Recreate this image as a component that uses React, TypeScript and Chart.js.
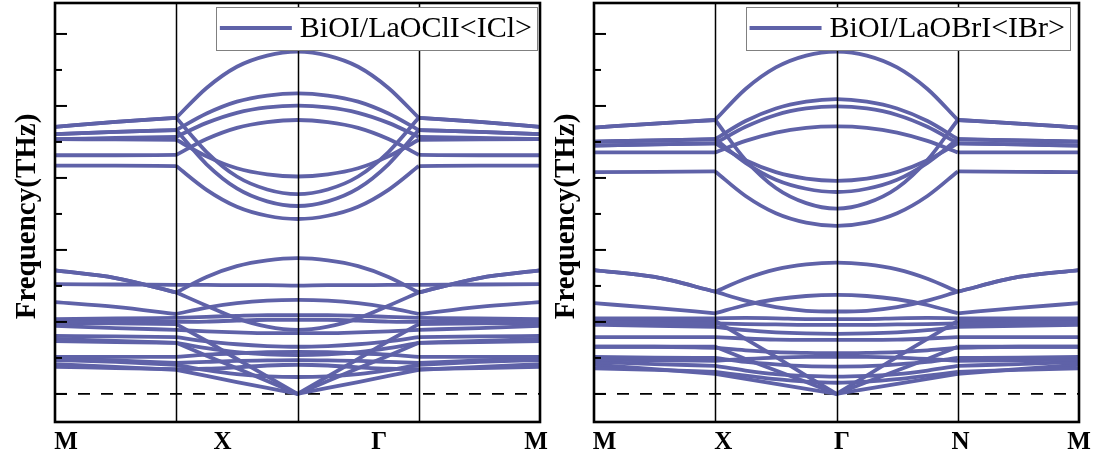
import React, { useEffect, useRef } from 'react';
import { Chart, registerables } from 'chart.js';

Chart.register(...registerables);

// k-path coordinate of every sample (M=0, X=1, Γ=2, N=3, M=4)
const PATH_T = [0, 0.5, 1, 1.25, 1.5, 1.75, 2, 2.25, 2.5, 2.75, 3, 3.5, 4];
// index ranges of the path segments M-X, X-Γ-N, N-M (bands are smooth inside a range, kinked at its ends)
const SEGMENTS = [[0, 2], [2, 10], [10, 12]];
const NODE_T = [1, 2, 3];
const LEFT_LABELS = ['M', 'X', 'Γ', 'M'];
const RIGHT_LABELS = ['M', 'X', 'Γ', 'N', 'M'];
const MAJOR_TICKS = [0, 2, 4, 6, 8, 10];
const MINOR_TICKS = [1, 3, 5, 7, 9];
const Y_TITLE = 'Frequency(THz)';
const LEFT_LEGEND = 'BiOI/LaOClI<ICl>';
const RIGHT_LEGEND = 'BiOI/LaOBrI<IBr>';

// ---------- BiOI/LaOClI<ICl> : optical (upper group) ----------
const L_A = [7.42, 7.56, 7.67, 8.5, 9.09, 9.4, 9.51, 9.4, 9.09, 8.5, 7.67, 7.56, 7.42];
const L_DN2 = [7.42, 7.56, 7.67, 6.72, 6.04, 5.68, 5.55, 5.68, 6.04, 6.72, 7.67, 7.56, 7.42];
const L_B = [7.22, 7.28, 7.33, 7.79, 8.12, 8.29, 8.35, 8.29, 8.12, 7.79, 7.33, 7.28, 7.22];
const L_DN3 = [7.22, 7.28, 7.33, 6.38, 5.71, 5.35, 5.22, 5.35, 5.71, 6.38, 7.33, 7.28, 7.22];
const L_C = [7.08, 7.11, 7.14, 7.53, 7.81, 7.96, 8.01, 7.96, 7.81, 7.53, 7.14, 7.11, 7.08];
const L_DN1 = [7.08, 7.07, 7.06, 6.6, 6.27, 6.1, 6.04, 6.1, 6.27, 6.6, 7.06, 7.07, 7.08];
const L_D = [6.63, 6.63, 6.64, 7.08, 7.39, 7.55, 7.61, 7.55, 7.39, 7.08, 6.64, 6.63, 6.63];
const L_DN4 = [6.34, 6.34, 6.33, 5.67, 5.2, 4.95, 4.86, 4.95, 5.2, 5.67, 6.33, 6.34, 6.34];
// ---------- BiOI/LaOClI<ICl> : lower group ----------
const L_B1 = [3.43, 3.22, 2.82, 3.25, 3.55, 3.71, 3.77, 3.71, 3.55, 3.25, 2.82, 3.22, 3.43];
const L_B5 = [3.43, 3.22, 2.82, 2.45, 2.1, 1.87, 1.78, 1.87, 2.1, 2.45, 2.82, 3.22, 3.43];
const L_B2 = [3.05, 3.04, 3.03, 3.03, 3.02, 3.02, 3.01, 3.02, 3.02, 3.03, 3.03, 3.04, 3.05];
const L_B3 = [2.55, 2.42, 2.22, 2.4, 2.52, 2.59, 2.61, 2.59, 2.52, 2.4, 2.22, 2.42, 2.55];
const L_B4 = [2.08, 2.1, 2.11, 2.14, 2.17, 2.19, 2.19, 2.19, 2.17, 2.14, 2.11, 2.1, 2.08];
const L_B6 = [2.03, 2.01, 2.0, 2.01, 2.04, 2.06, 2.06, 2.06, 2.04, 2.01, 2.0, 2.01, 2.03];
const L_B8 = [1.89, 1.83, 1.78, 1.74, 1.71, 1.69, 1.69, 1.69, 1.71, 1.74, 1.78, 1.83, 1.89];
const L_B9 = [1.61, 1.6, 1.58, 1.46, 1.38, 1.33, 1.31, 1.33, 1.38, 1.46, 1.58, 1.6, 1.61];
const L_B10 = [1.53, 1.47, 1.42, 1.27, 1.16, 1.1, 1.08, 1.1, 1.16, 1.27, 1.42, 1.47, 1.53];
const L_B11 = [1.03, 1.03, 1.03, 1.09, 1.13, 1.16, 1.17, 1.16, 1.13, 1.09, 1.03, 1.03, 1.03];
const L_B12 = [0.99, 0.93, 0.86, 0.89, 0.92, 0.93, 0.94, 0.93, 0.92, 0.89, 0.86, 0.93, 0.99];
const L_B13 = [0.94, 0.89, 0.81, 0.66, 0.55, 0.49, 0.47, 0.49, 0.55, 0.66, 0.81, 0.89, 0.94];
const L_B14 = [0.75, 0.72, 0.69, 0.7, 0.74, 0.79, 0.81, 0.79, 0.74, 0.7, 0.69, 0.72, 0.75];
// acoustic
const L_A1 = [0.83, 0.75, 0.67, 0.5, 0.33, 0.17, 0, 0.17, 0.33, 0.5, 0.67, 0.75, 0.83];
const L_A2 = [1.47, 1.44, 1.42, 1.06, 0.71, 0.36, 0, 0.36, 0.71, 1.06, 1.42, 1.44, 1.47];
const L_A3 = [1.97, 1.96, 1.94, 1.47, 0.97, 0.49, 0, 0.49, 0.97, 1.47, 1.94, 1.96, 1.97];

// ---------- BiOI/LaOBrI<IBr> : optical (upper group) ----------
const R_A = [7.4, 7.51, 7.61, 8.47, 9.07, 9.4, 9.51, 9.4, 9.07, 8.47, 7.61, 7.51, 7.4];
const R_DN2 = [7.4, 7.51, 7.61, 6.5, 5.72, 5.3, 5.15, 5.3, 5.72, 6.5, 7.61, 7.51, 7.4];
const R_B = [7.01, 7.04, 7.08, 7.58, 7.93, 8.12, 8.19, 8.12, 7.93, 7.58, 7.08, 7.04, 7.01];
const R_DN3 = [7.01, 7.04, 7.08, 6.42, 5.95, 5.7, 5.61, 5.7, 5.95, 6.42, 7.08, 7.04, 7.01];
const R_C = [6.9, 6.93, 6.96, 7.42, 7.75, 7.93, 7.99, 7.93, 7.75, 7.42, 6.96, 6.93, 6.9];
const R_DN1 = [6.9, 6.93, 6.96, 6.49, 6.16, 5.98, 5.92, 5.98, 6.16, 6.49, 6.96, 6.93, 6.9];
const R_D = [6.71, 6.71, 6.71, 7.03, 7.26, 7.39, 7.43, 7.39, 7.26, 7.03, 6.71, 6.71, 6.71];
const R_DN4 = [6.16, 6.17, 6.18, 5.5, 5.02, 4.76, 4.67, 4.76, 5.02, 5.5, 6.18, 6.17, 6.16];
// ---------- BiOI/LaOBrI<IBr> : lower group ----------
const R_R1 = [3.44, 3.25, 2.84, 3.2, 3.46, 3.6, 3.65, 3.6, 3.46, 3.2, 2.84, 3.25, 3.44];
const R_R2 = [3.44, 3.25, 2.84, 2.59, 2.41, 2.31, 2.29, 2.31, 2.41, 2.59, 2.84, 3.25, 3.44];
const R_R3 = [2.52, 2.39, 2.24, 2.47, 2.63, 2.72, 2.75, 2.72, 2.63, 2.47, 2.24, 2.39, 2.52];
const R_R4 = [2.1, 2.1, 2.1, 2.11, 2.1, 2.08, 2.08, 2.08, 2.1, 2.11, 2.1, 2.1, 2.1];
const R_R5 = [1.99, 1.97, 1.96, 1.94, 1.93, 1.92, 1.92, 1.92, 1.93, 1.94, 1.96, 1.97, 1.99];
const R_R6 = [1.92, 1.89, 1.86, 1.77, 1.71, 1.68, 1.67, 1.68, 1.71, 1.77, 1.86, 1.89, 1.92];
const R_R7 = [1.58, 1.58, 1.58, 1.54, 1.51, 1.5, 1.5, 1.5, 1.51, 1.54, 1.58, 1.58, 1.58];
const R_R8 = [1.31, 1.31, 1.28, 1.21, 1.16, 1.14, 1.13, 1.14, 1.16, 1.21, 1.28, 1.31, 1.31];
const R_R9 = [1.03, 1.01, 1.0, 0.89, 0.82, 0.77, 0.76, 0.77, 0.82, 0.89, 1.0, 1.01, 1.03];
const R_R10 = [0.96, 0.93, 0.92, 0.97, 1.01, 1.03, 1.03, 1.03, 1.01, 0.97, 0.92, 0.93, 0.96];
const R_R11 = [0.89, 0.83, 0.78, 0.65, 0.55, 0.5, 0.48, 0.5, 0.55, 0.65, 0.78, 0.83, 0.89];
const R_R12 = [0.71, 0.67, 0.61, 0.51, 0.41, 0.34, 0.31, 0.34, 0.41, 0.51, 0.61, 0.67, 0.71];
// acoustic
const R_A1 = [0.81, 0.69, 0.56, 0.42, 0.28, 0.14, 0, 0.14, 0.28, 0.42, 0.56, 0.69, 0.81];
const R_A2 = [1.31, 1.31, 1.31, 0.97, 0.65, 0.33, 0, 0.33, 0.65, 0.97, 1.31, 1.31, 1.31];
const R_A3 = [2.04, 2.03, 2.03, 1.53, 1.03, 0.51, 0, 0.51, 1.03, 1.53, 2.03, 2.03, 2.04];

const LEFT_OPTICAL = [L_A, L_DN2, L_B, L_DN3, L_C, L_DN1, L_D, L_DN4, L_B1, L_B5, L_B2, L_B3, L_B4, L_B6, L_B8, L_B9, L_B10, L_B11, L_B12, L_B13, L_B14];
const LEFT_ACOUSTIC = [L_A1, L_A2, L_A3];
const RIGHT_OPTICAL = [R_A, R_DN2, R_B, R_DN3, R_C, R_DN1, R_D, R_DN4, R_R1, R_R2, R_R3, R_R4, R_R5, R_R6, R_R7, R_R8, R_R9, R_R10, R_R11, R_R12];
const RIGHT_ACOUSTIC = [R_A1, R_A2, R_A3];

const BAND_COLOR = '#5F62A8';
const SERIF = '"Liberation Serif", "Times New Roman", serif';

type PanelCfg = {
  optical: number[][];
  acoustic: number[][];
  labels: string[];
  legend: string;
  legendInset: number;
  labelMin: number;
  labelMax: number;
  padding: { left: number; right: number; top: number; bottom: number };
};

function makeDecor(cfg: PanelCfg) {
  return {
    id: 'decor',
    afterDatasetsDraw(chart: any) {
      const { ctx, chartArea: a, scales } = chart;
      const x = scales.x;
      const y = scales.y;
      const xl = scales.xl;
      ctx.save();
      ctx.strokeStyle = '#000';
      // high-symmetry lines
      ctx.lineWidth = 1.5;
      NODE_T.forEach((t) => {
        const px = Math.round(x.getPixelForValue(t)) + 0.5;
        ctx.beginPath();
        ctx.moveTo(px, a.top);
        ctx.lineTo(px, a.bottom);
        ctx.stroke();
      });
      // inward ticks on left axis
      ctx.lineWidth = 2;
      MAJOR_TICKS.forEach((v) => {
        const py = y.getPixelForValue(v);
        ctx.beginPath();
        ctx.moveTo(a.left, py);
        ctx.lineTo(a.left + 12, py);
        ctx.stroke();
      });
      MINOR_TICKS.forEach((v) => {
        const py = y.getPixelForValue(v);
        ctx.beginPath();
        ctx.moveTo(a.left, py);
        ctx.lineTo(a.left + 7, py);
        ctx.stroke();
      });
      // legend
      ctx.font = '30px ' + SERIF;
      const tw = ctx.measureText(cfg.legend).width;
      const boxRight = a.right - cfg.legendInset;
      const boxW = 4 + 72 + 8 + tw + 5;
      const boxLeft = boxRight - boxW;
      const boxTop = a.top + 4;
      const boxH = 43;
      ctx.fillStyle = '#fff';
      ctx.fillRect(boxLeft, boxTop, boxW, boxH);
      ctx.strokeStyle = '#808080';
      ctx.lineWidth = 1;
      ctx.strokeRect(Math.round(boxLeft) + 0.5, boxTop + 0.5, Math.round(boxW), boxH);
      ctx.strokeStyle = BAND_COLOR;
      ctx.lineWidth = 3.8;
      ctx.beginPath();
      ctx.moveTo(boxLeft + 4, boxTop + 21);
      ctx.lineTo(boxLeft + 76, boxTop + 21);
      ctx.stroke();
      ctx.fillStyle = '#000';
      ctx.textAlign = 'left';
      ctx.textBaseline = 'alphabetic';
      ctx.fillText(cfg.legend, boxLeft + 84, boxTop + 30);
      // frame
      ctx.strokeStyle = '#000';
      ctx.lineWidth = 2.6;
      ctx.strokeRect(a.left, a.top, a.right - a.left, a.bottom - a.top);
      // k-point labels
      ctx.font = 'bold 25px ' + SERIF;
      ctx.textAlign = 'center';
      ctx.textBaseline = 'alphabetic';
      cfg.labels.forEach((lab, i) => {
        ctx.fillText(lab, xl.getPixelForValue(i), a.bottom + 27);
      });
      // y title
      ctx.translate(a.left - 27, (a.top + a.bottom) / 2 + 4);
      ctx.rotate(-Math.PI / 2);
      ctx.font = 'bold 29px ' + SERIF;
      ctx.textAlign = 'center';
      ctx.textBaseline = 'middle';
      ctx.fillText(Y_TITLE, 0, 0);
      ctx.restore();
    },
  };
}

function segmentPoints(arr: number[], from: number, to: number) {
  const pts = [];
  for (let i = from; i <= to; i++) pts.push({ x: PATH_T[i], y: arr[i] });
  return pts;
}

function Panel({ cfg, width, left }: { cfg: PanelCfg; width: number; left: number }) {
  const ref = useRef<HTMLCanvasElement>(null);
  useEffect(() => {
    const datasets: any[] = [];
    const base = { borderColor: BAND_COLOR, borderWidth: 3.8, pointRadius: 0, fill: false };
    cfg.optical.forEach((arr) =>
      SEGMENTS.forEach(([a, b]) =>
        datasets.push({ ...base, data: segmentPoints(arr, a, b), cubicInterpolationMode: 'monotone' })
      )
    );
    cfg.acoustic.forEach((arr) =>
      SEGMENTS.forEach(([a, b]) =>
        datasets.push({ ...base, data: segmentPoints(arr, a, b), tension: 0 })
      )
    );
    datasets.push({
      data: [
        { x: PATH_T[0], y: 0 },
        { x: PATH_T[PATH_T.length - 1], y: 0 },
      ],
      borderColor: '#000',
      borderWidth: 1.8,
      borderDash: [12, 11],
      pointRadius: 0,
      fill: false,
    });
    const chart = new Chart(ref.current as HTMLCanvasElement, {
      type: 'line',
      data: { datasets },
      options: {
        animation: false,
        responsive: false,
        events: [],
        layout: { padding: cfg.padding },
        plugins: { legend: { display: false }, tooltip: { enabled: false } },
        scales: {
          x: { type: 'linear', min: 0, max: 4, display: false },
          xl: { type: 'linear', axis: 'x', min: cfg.labelMin, max: cfg.labelMax, display: false },
          y: { type: 'linear', min: -0.78, max: 10.86, display: false },
        },
      },
      plugins: [makeDecor(cfg)],
    } as any);
    return () => chart.destroy();
  }, []);
  return (
    <canvas
      ref={ref}
      width={width}
      height={459}
      style={{ position: 'absolute', left, top: 0, width, height: 459 }}
    />
  );
}

const LEFT_CFG: PanelCfg = {
  optical: LEFT_OPTICAL,
  acoustic: LEFT_ACOUSTIC,
  labels: LEFT_LABELS,
  legend: LEFT_LEGEND,
  legendInset: 3,
  labelMin: -0.07,
  labelMax: 3.026,
  padding: { left: 55, right: 12, top: 3, bottom: 37 },
};

const RIGHT_CFG: PanelCfg = {
  optical: RIGHT_OPTICAL,
  acoustic: RIGHT_ACOUSTIC,
  labels: RIGHT_LABELS,
  legend: RIGHT_LEGEND,
  legendInset: 9,
  labelMin: -0.09,
  labelMax: 4.0,
  padding: { left: 42, right: 18, top: 3, bottom: 37 },
};

export default function App() {
  return (
    <div style={{ position: 'absolute', left: 0, top: 0, width: 1097, height: 459, background: '#fff' }}>
      <Panel cfg={LEFT_CFG} width={552} left={0} />
      <Panel cfg={RIGHT_CFG} width={545} left={552} />
    </div>
  );
}
